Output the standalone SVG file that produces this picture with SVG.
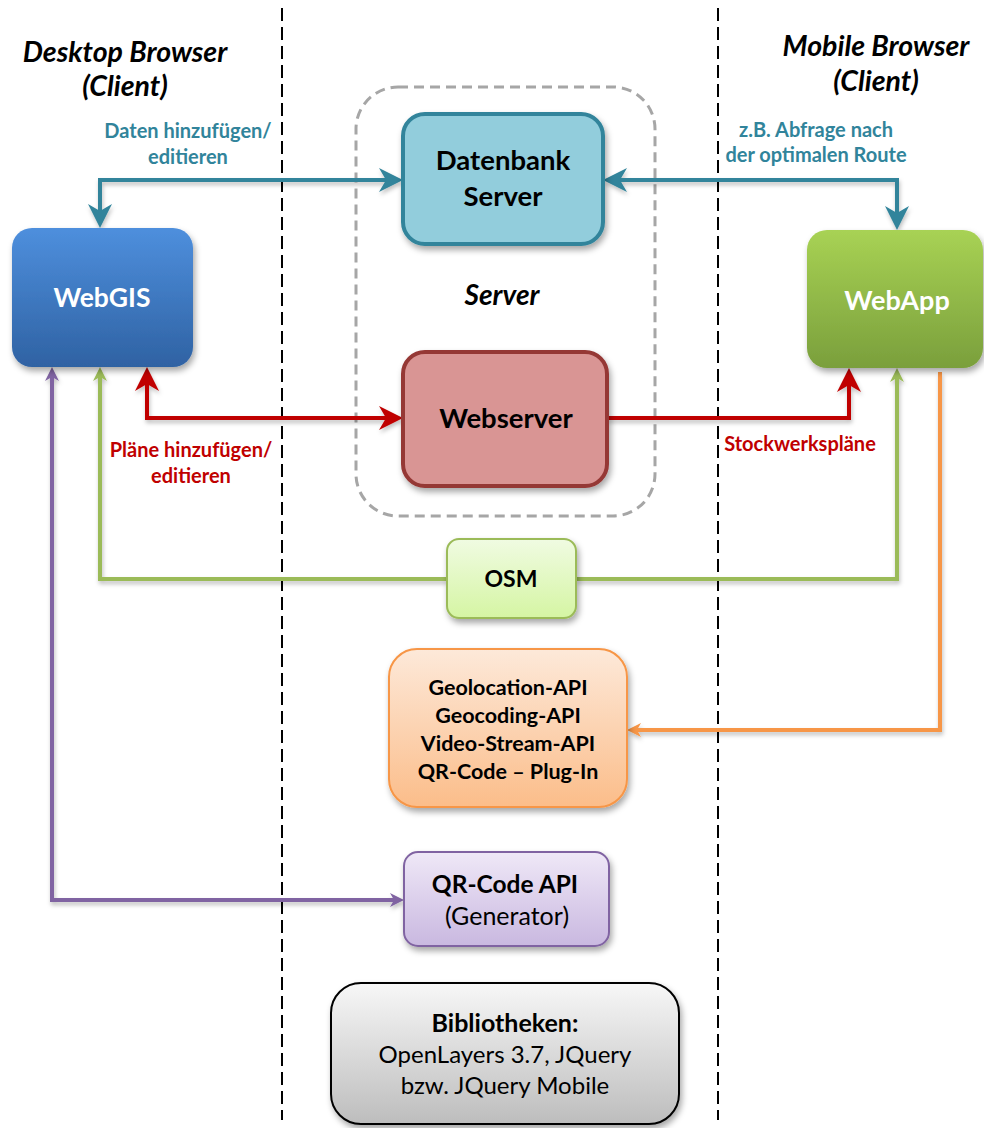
<svg xmlns="http://www.w3.org/2000/svg" width="984" height="1128" viewBox="0 0 984 1128">
<style>
.t{font-family:Lato,"Liberation Sans",sans-serif;text-anchor:middle}
.b{font-weight:bold}
.i{font-style:italic}
.sep{stroke:#000;stroke-width:2;stroke-dasharray:13 6;fill:none}
.ln{fill:none;stroke-width:4;stroke-linejoin:miter}
.lbl{font-size:20px;font-weight:bold}
</style>
<defs>
<filter id="sh" x="-20%" y="-20%" width="150%" height="150%"><feDropShadow dx="2" dy="4" stdDeviation="3" flood-color="#000" flood-opacity="0.35"/></filter>
<filter id="lsh" x="-5%" y="-5%" width="110%" height="120%"><feDropShadow dx="1" dy="3" stdDeviation="2" flood-color="#000" flood-opacity="0.25"/></filter>
<linearGradient id="gBlue" x1="0" y1="0" x2="0" y2="1"><stop offset="0" stop-color="#4e8fdd"/><stop offset="1" stop-color="#2f62a3"/></linearGradient>
<linearGradient id="gGreen" x1="0" y1="0" x2="0" y2="1"><stop offset="0" stop-color="#a8d254"/><stop offset="1" stop-color="#7a9f3c"/></linearGradient>
<linearGradient id="gOsm" x1="0" y1="0" x2="0" y2="1"><stop offset="0" stop-color="#f0fbe2"/><stop offset="1" stop-color="#d5f5a3"/></linearGradient>
<linearGradient id="gOr" x1="0" y1="0" x2="0" y2="1"><stop offset="0" stop-color="#fde9d9"/><stop offset="1" stop-color="#fbbd8a"/></linearGradient>
<linearGradient id="gPu" x1="0" y1="0" x2="0" y2="1"><stop offset="0" stop-color="#efe8f7"/><stop offset="1" stop-color="#c9b8e0"/></linearGradient>
<linearGradient id="gGr" x1="0" y1="0" x2="0" y2="1"><stop offset="0" stop-color="#f7f7f7"/><stop offset="1" stop-color="#bdbdbd"/></linearGradient>
<marker id="aBlue" markerUnits="userSpaceOnUse" viewBox="0 0 24 24" markerWidth="24" markerHeight="24" refX="18" refY="12" orient="auto-start-reverse"><path d="M0,0 L24,12 L0,24 L7,12 z" fill="#31849b"/></marker>
<marker id="aRed" markerUnits="userSpaceOnUse" viewBox="0 0 24 24" markerWidth="24" markerHeight="24" refX="18" refY="12" orient="auto-start-reverse"><path d="M0,0 L24,12 L0,24 L7,12 z" fill="#c00000"/></marker>
<marker id="aGreen" markerUnits="userSpaceOnUse" viewBox="0 0 14 14" markerWidth="14" markerHeight="14" refX="10" refY="7" orient="auto-start-reverse"><path d="M0,0 L14,7 L0,14 L4,7 z" fill="#9bbb59"/></marker>
<marker id="aOr" markerUnits="userSpaceOnUse" viewBox="0 0 14 14" markerWidth="14" markerHeight="14" refX="10" refY="7" orient="auto-start-reverse"><path d="M0,0 L14,7 L0,14 L4,7 z" fill="#f79646"/></marker>
<marker id="aPu" markerUnits="userSpaceOnUse" viewBox="0 0 14 14" markerWidth="14" markerHeight="14" refX="10" refY="7" orient="auto-start-reverse"><path d="M0,0 L14,7 L0,14 L4,7 z" fill="#8064a2"/></marker>
</defs>
<rect width="984" height="1128" fill="#fff"/>
<g id="separators">
<line class="sep" x1="282" y1="8" x2="282" y2="1120"/>
<line class="sep" x1="718" y1="8" x2="718" y2="1120"/>
</g>
<g id="titles">
<text class="t b i" x="125" y="62" font-size="28.5">Desktop Browser</text>
<text class="t b i" x="125" y="96" font-size="28.5">(Client)</text>
<text class="t b i" x="876" y="56" font-size="28.5">Mobile Browser</text>
<text class="t b i" x="876" y="91" font-size="28.5">(Client)</text>
</g>
<g id="server-group">
<rect x="356" y="87" width="299" height="429" rx="42" fill="none" stroke="#a6a6a6" stroke-width="3" stroke-dasharray="10 6"/>
<text class="t b i" x="502" y="305" font-size="28">Server</text>
</g>
<g id="connectors" filter="url(#lsh)">
<path class="ln" stroke="#31849b" d="M397,180 H100 V222" marker-start="url(#aBlue)" marker-end="url(#aBlue)"/>
<path class="ln" stroke="#31849b" d="M609,180 H897 V224" marker-start="url(#aBlue)" marker-end="url(#aBlue)"/>
<path class="ln" stroke="#c00000" d="M147,373 V418 H397" marker-start="url(#aRed)" marker-end="url(#aRed)"/>
<path class="ln" stroke="#c00000" d="M607,418 H849 V374" marker-end="url(#aRed)"/>
<path class="ln" stroke="#9bbb59" d="M447,579 H100 V371" marker-end="url(#aGreen)"/>
<path class="ln" stroke="#9bbb59" d="M576,579 H897 V372" marker-end="url(#aGreen)"/>
<path class="ln" stroke="#f79646" d="M940,372 V730 H631" marker-end="url(#aOr)"/>
<path class="ln" stroke="#8064a2" d="M52,371 V900 H400" marker-start="url(#aPu)" marker-end="url(#aPu)"/>
</g>
<g id="labels">
<text class="t lbl" x="188" y="138" fill="#31849b">Daten hinzufügen/</text>
<text class="t lbl" x="188" y="164" fill="#31849b">editieren</text>
<text class="t lbl" x="816" y="137" fill="#31849b">z.B. Abfrage nach</text>
<text class="t lbl" x="816" y="162" fill="#31849b">der optimalen Route</text>
<text class="t lbl" x="191" y="457" fill="#c00000">Pläne hinzufügen/</text>
<text class="t lbl" x="191" y="483" fill="#c00000">editieren</text>
<text class="t lbl" x="800" y="451" fill="#c00000">Stockwerkspläne</text>
</g>
<g id="datenbank">
<rect x="403" y="114" width="200" height="130" rx="22" fill="#92cddc" stroke="#31849b" stroke-width="4" filter="url(#sh)"/>
<text class="t b" x="503" y="170" font-size="27.5">Datenbank</text>
<text class="t b" x="503" y="206" font-size="27.5">Server</text>
</g>
<g id="webserver">
<rect x="403" y="352" width="204" height="134" rx="22" fill="#d99594" stroke="#953735" stroke-width="4" filter="url(#sh)"/>
<text class="t b" x="506" y="428" font-size="27.5">Webserver</text>
</g>
<g id="webgis">
<rect x="12" y="228" width="181" height="139" rx="20" fill="url(#gBlue)" filter="url(#sh)"/>
<text class="t b" x="102" y="307" font-size="26.5" fill="#fff">WebGIS</text>
</g>
<g id="webapp">
<rect x="807" y="230" width="176" height="138" rx="20" fill="url(#gGreen)" filter="url(#sh)"/>
<text class="t b" x="897" y="310" font-size="27" fill="#fff">WebApp</text>
</g>
<g id="osm">
<rect x="447" y="539" width="129" height="79" rx="12" fill="url(#gOsm)" stroke="#9bbb59" stroke-width="2" filter="url(#sh)"/>
<text class="t b" x="511" y="587" font-size="23">OSM</text>
</g>
<g id="apis">
<rect x="389" y="649" width="238" height="158" rx="28" fill="url(#gOr)" stroke="#f79646" stroke-width="2" filter="url(#sh)"/>
<text class="t b" x="508" y="695" font-size="21.5">Geolocation-API</text>
<text class="t b" x="508" y="723" font-size="21.5">Geocoding-API</text>
<text class="t b" x="508" y="751" font-size="21.5">Video-Stream-API</text>
<text class="t b" x="508" y="779" font-size="21.5">QR-Code – Plug-In</text>
</g>
<g id="qrcode">
<rect x="404" y="852" width="205" height="94" rx="14" fill="url(#gPu)" stroke="#8064a2" stroke-width="2" filter="url(#sh)"/>
<text class="t b" x="505" y="893" font-size="24.5">QR-Code API</text>
<text class="t" x="507" y="925" font-size="25">(Generator)</text>
</g>
<g id="bibliotheken">
<rect x="331" y="983" width="348" height="141" rx="30" fill="url(#gGr)" stroke="#000" stroke-width="2" filter="url(#sh)"/>
<text class="t b" x="505" y="1032" font-size="25">Bibliotheken:</text>
<text class="t" x="505" y="1063" font-size="24">OpenLayers 3.7, JQuery</text>
<text class="t" x="505" y="1094" font-size="24">bzw. JQuery Mobile</text>
</g>
</svg>
